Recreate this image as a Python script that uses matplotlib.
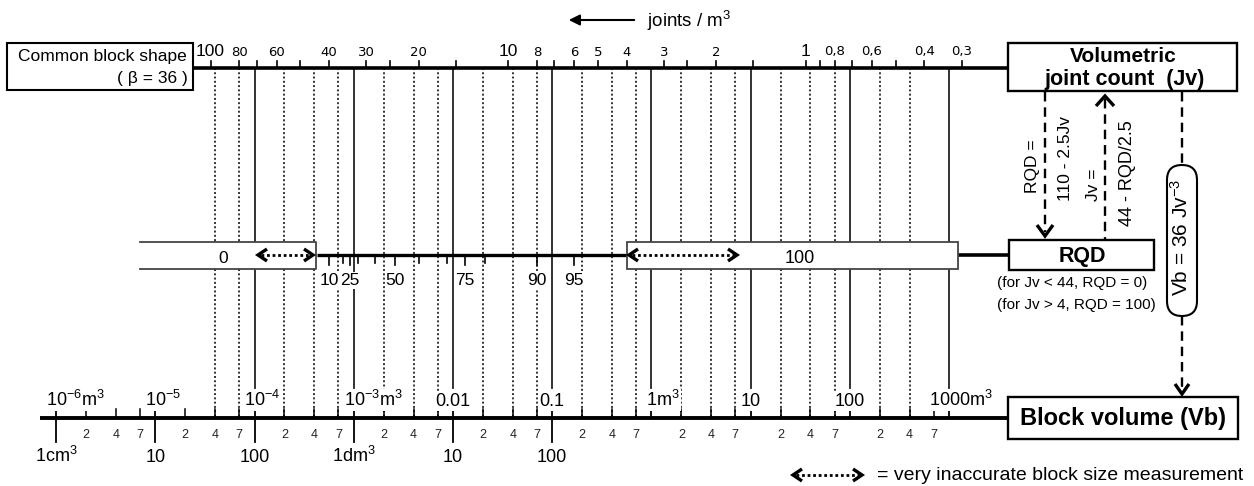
import matplotlib
matplotlib.use("Agg")
import matplotlib.pyplot as plt
from matplotlib.patches import Rectangle, FancyBboxPatch
import numpy as np

plt.rcParams['font.family'] = ['Liberation Sans', 'DejaVu Sans']
plt.rcParams['mathtext.fontset'] = 'custom'
plt.rcParams['mathtext.rm'] = 'Liberation Sans'
plt.rcParams['mathtext.it'] = 'Liberation Sans:italic'
plt.rcParams['mathtext.bf'] = 'Liberation Sans:bold'

BETA = 36

# joints / m3 scale (top)
jv_big = [100, 10, 1]
jv_labelled = [80, 60, 40, 30, 20, 8, 6, 5, 4, 3, 2, 0.8, 0.6, 0.4, 0.3]
jv_unlabelled = [70, 50, 25, 15, 7, 2.5, 1.5, 0.9, 0.7, 0.5]

# RQD scale (middle)
rqd_labelled = [10, 25, 50, 75, 90, 95]
rqd_unlabelled = [20, 30, 40, 60, 70, 80]

# block volume scale (bottom), m3
vb_decades = [-6, -5, -4, -3, -2, -1, 0, 1, 2, 3]
vb_upper_labels = ['10$^{-6}$m$^3$', '10$^{-5}$', '10$^{-4}$', '10$^{-3}$m$^3$', '0.01',
                   '0.1', '1m$^3$', '10', '100', '1000m$^3$']
vb_lower_labels = ['1cm$^3$', '10', '100', '1dm$^3$', '10', '100']
vb_minor_mult = [2, 4, 7]
vb_dotted_range = (4e-5, 4e2)
vb_solid_from = -4


def jv_from_vb(vb):
    return (BETA / np.asarray(vb, float)) ** (1 / 3)


def jv_from_rqd(rqd):
    return (110 - np.asarray(rqd, float)) / 2.5


W, H = 1254, 486
X100, DEC = 210.5, 297.7   # pixel of Jv=100, pixels per decade
JV_LEFT = 100 * 10 ** (X100 / DEC)
JV_RIGHT = 100 * 10 ** (-(W - X100) / DEC)

TOP_Y, RQD_Y, BOT_Y = 68, 255, 418

fig = plt.figure(figsize=(W / 100, H / 100), dpi=100)
ax = fig.add_axes([0, 0, 1, 1])
ax.set_xscale('log')
ax.set_xlim(JV_LEFT, JV_RIGHT)
ax.set_ylim(H, 0)
ax.axis('off')

lay = fig.add_axes([0, 0, 1, 1], zorder=2)
lay.set_xlim(0, W)
lay.set_ylim(H, 0)
lay.axis('off')


def fmt(v):
    return f"{v:g}".replace('.', ',')


# ---- vertical guide lines
vb_minor = [m * 10.0 ** d for d in vb_decades[:-1] for m in vb_minor_mult]
for v in vb_minor:
    if vb_dotted_range[0] * 0.999 <= v <= vb_dotted_range[1] * 1.001:
        x = jv_from_vb(v)
        ax.plot([x, x], [TOP_Y, BOT_Y], ls=(0, (1, 1.2)), color='#333', lw=1.4)
for d in vb_decades:
    if d >= vb_solid_from:
        x = jv_from_vb(10.0 ** d)
        ax.plot([x, x], [TOP_Y, 388], color='#222', lw=1.3)

# ---- top scale
for v in jv_big + jv_labelled + jv_unlabelled:
    ax.plot([v, v], [TOP_Y - 7, TOP_Y], color='k', lw=1.2)
for v in jv_big:
    ax.text(v, 55.5, fmt(v), fontsize=12.5, ha='center', va='baseline')
for v in jv_labelled:
    ax.text(v, 55.5, fmt(v), fontsize=9.5, family='DejaVu Sans', ha='center', va='baseline')
lay.plot([193, 1008], [TOP_Y, TOP_Y], color='k', lw=2.6, solid_capstyle='butt')

# ---- RQD scale
ax.plot(jv_from_rqd([0, 100]), [RQD_Y, RQD_Y], color='k', lw=2.4, solid_capstyle='butt')
for r in rqd_labelled:
    x = jv_from_rqd(r)
    ax.plot([x, x], [RQD_Y, RQD_Y + 10], color='k', lw=1.2)
    ax.text(x, 285, str(r), fontsize=12.5, ha='center', va='baseline',
            bbox=dict(fc='white', ec='none', pad=0.5))
for r in rqd_unlabelled:
    x = jv_from_rqd(r)
    ax.plot([x, x], [RQD_Y, RQD_Y + 8], color='k', lw=1.2)

# ---- bottom scale
for d, lab in zip(vb_decades, vb_upper_labels):
    x = jv_from_vb(10.0 ** d)
    ax.plot([x, x], [405, BOT_Y], color='k', lw=1.3)
    num = lab.split('$')[0].rstrip('m')
    if num == lab:
        ax.text(x, 406, lab, fontsize=13, ha='center', va='baseline',
                bbox=dict(fc='white', ec='none', pad=0.5))
    else:
        off = -0.556 * 13 * len(num) / 2
        ax.annotate(lab, (x, 406), xytext=(off, 0), textcoords='offset points',
                    fontsize=13, ha='left', va='baseline',
                    bbox=dict(fc='white', ec='none', pad=0.5))
for d, lab in zip(vb_decades, vb_lower_labels):
    x = jv_from_vb(10.0 ** d)
    ax.plot([x, x], [BOT_Y, 442], color='k', lw=1.3)
    ax.text(x, 462, lab, fontsize=13, ha='center', va='baseline')
for v in vb_minor:
    x = jv_from_vb(v)
    ax.plot([x, x], [409, BOT_Y], color='k', lw=1.1)
    ax.text(x, 438, str(int(round(v / 10 ** np.floor(np.log10(v) + 1e-9)))),
            fontsize=9, ha='center', va='baseline', color='#222')
lay.plot([40, 1008], [BOT_Y, BOT_Y], color='k', lw=2.8, solid_capstyle='butt')


# ---- helpers for arrows
def chevron(x, y, direction, half=6, depth=9, lw=2.4):
    if direction == 'right':
        xs, ys = [x - depth, x, x - depth], [y - half, y, y + half]
    elif direction == 'left':
        xs, ys = [x + depth, x, x + depth], [y - half, y, y + half]
    elif direction == 'up':
        xs, ys = [x - half, x, x + half], [y + depth, y, y + depth]
    else:
        xs, ys = [x - half, x, x + half], [y - depth, y, y - depth]
    lay.plot(xs, ys, color='k', lw=lw, solid_joinstyle='miter', solid_capstyle='butt', zorder=6)


def inaccurate(x0, x1, y):
    lay.plot([x0 + 3, x1 - 3], [y, y], ls=(0, (1, 1)), color='k', lw=2, zorder=6)
    chevron(x0, y, 'left')
    chevron(x1, y, 'right')


def dashed(x, y0, y1):
    lay.plot([x, x], [y0, y1], ls=(0, (4, 2.5)), color='k', lw=1.7, zorder=4)


# ---- RQD boxes
lay.add_patch(Rectangle((140, 241.5), 176, 27.5, fc='white', ec='none', zorder=3))
lay.plot([140, 316, 316, 140], [241.5, 241.5, 269, 269], color='#444', lw=1.3, zorder=4)
lay.text(223, 263, '0', fontsize=12.5, ha='center', va='baseline', zorder=5)
inaccurate(258, 313, RQD_Y)

lay.add_patch(Rectangle((627, 241.5), 331, 27.5, fc='white', ec='#444', lw=1.3, zorder=3))
lay.text(800, 263, '100', fontsize=13, ha='center', va='baseline', zorder=5)
inaccurate(629, 737, RQD_Y)
lay.plot([958, 1009], [RQD_Y, RQD_Y], color='k', lw=2.6, solid_capstyle='butt')

# ---- labelled boxes
lay.add_patch(Rectangle((7, 43), 186, 47, fc='white', ec='k', lw=1.5, zorder=3))
lay.text(187, 57, 'Common block shape', fontsize=12.5, ha='right', va='center', zorder=5)
lay.text(188, 78, '( β = 36 )', fontsize=12.5, ha='right', va='center', zorder=5)

lay.add_patch(Rectangle((1008, 43), 229, 48, fc='white', ec='k', lw=1.7, zorder=3))
lay.text(1123, 57, 'Volumetric', fontsize=15, fontweight='bold', ha='center', va='center', zorder=5)
lay.text(1125, 80, 'joint count  (Jv)', fontsize=15.5, fontweight='bold', ha='center', va='center', zorder=5)

lay.add_patch(Rectangle((1009, 240), 145, 30, fc='white', ec='k', lw=1.7, zorder=3))
lay.text(1082, 256, 'RQD', fontsize=15.5, fontweight='bold', ha='center', va='center', zorder=5)
lay.text(1072, 283, '(for Jv < 44, RQD = 0)', fontsize=11, ha='center', va='center')
lay.text(1076, 305, '(for Jv > 4, RQD = 100)', fontsize=11, ha='center', va='center')

lay.add_patch(Rectangle((1008, 397), 230, 42, fc='white', ec='k', lw=1.7, zorder=3))
lay.text(1123, 418, 'Block volume (Vb)', fontsize=17, fontweight='bold', ha='center', va='center', zorder=5)

# ---- relations on the right
dashed(1045, 92, 232)
chevron(1045, 236, 'down', half=8, depth=11)
lay.text(1033, 166, 'RQD =', rotation=90, fontsize=12.5, ha='center', va='center')
lay.text(1066, 158, '110 - 2.5Jv', rotation=90, fontsize=12.5, ha='center', va='center')

dashed(1105, 99, 239)
chevron(1105, 96, 'up', half=9, depth=10)
lay.text(1093, 185, 'Jv =', rotation=90, fontsize=12.5, ha='center', va='center')
lay.text(1127, 173, '44 - RQD/2.5', rotation=90, fontsize=13, ha='center', va='center')

dashed(1182, 92, 165)
dashed(1182, 316, 390)
chevron(1182, 394, 'down', half=7, depth=10)
lay.add_patch(FancyBboxPatch((1167, 165), 30, 151, boxstyle='round,pad=0,rounding_size=15',
                             fc='white', ec='k', lw=1.5, zorder=3))
lay.text(1181, 237, 'Vb = 36 Jv$^{-3}$', rotation=90, fontsize=15, ha='center', va='center', zorder=5)

# ---- joints / m3 header and legend
lay.annotate('', xy=(566, 20), xytext=(637, 20),
             arrowprops=dict(arrowstyle='-|>', color='k', lw=1.5, mutation_scale=16))
lay.text(647, 27, 'joints / m$^3$', fontsize=13.5, ha='left', va='baseline')

inaccurate(793, 862, 475)
lay.text(877, 475, '= very inaccurate block size measurement', fontsize=14, ha='left', va='center')

fig.savefig('out.png', dpi=100)
